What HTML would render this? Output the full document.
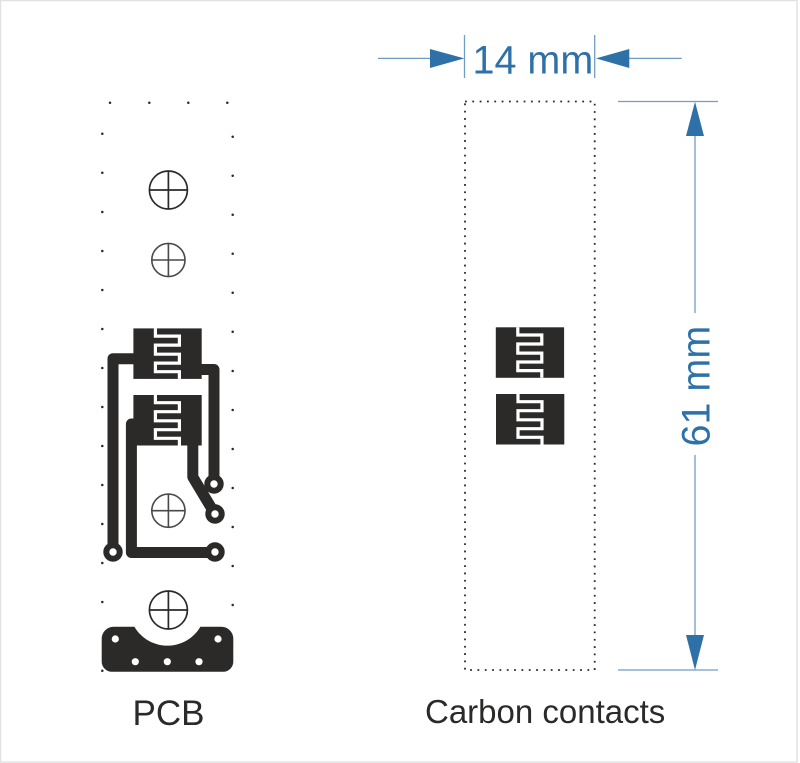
<!DOCTYPE html>
<html>
<head>
<meta charset="utf-8">
<style>
html,body{margin:0;padding:0;background:#fff;width:800px;height:763px;overflow:hidden}
svg{display:block}
text{font-family:"Liberation Sans",sans-serif}
</style>
</head>
<body>
<svg width="800" height="763" viewBox="0 0 800 763" xmlns="http://www.w3.org/2000/svg">
<defs>
  <g id="pad">
    <rect x="0" y="0" width="68.3" height="50.5" fill="#2b2a29"/>
    <path d="M22 0V7.7H46V16.7H22V25.8H46V34.7H22V43.3H46V50.5" fill="none" stroke="#fff" stroke-width="3.2"/>
  </g>
  <g id="via"><circle r="6.7" fill="#fff" stroke="#2b2a29" stroke-width="6"/></g>
  <circle id="d" r="1.25" fill="#2b2a29"/>
</defs>
<rect x="0.5" y="0.5" width="796.5" height="761.5" fill="#fff" stroke="#e2e2e2" stroke-width="1.5"/>

<!-- mounting dots -->
<g>
  <use href="#d" x="110" y="102.7"/><use href="#d" x="149.3" y="102.7"/><use href="#d" x="188.3" y="102.7"/><use href="#d" x="227.3" y="102.7"/>
  <use href="#d" x="102.3" y="133.7"/><use href="#d" x="102.3" y="172.7"/><use href="#d" x="102.3" y="212"/><use href="#d" x="102.3" y="251"/><use href="#d" x="102.3" y="290"/><use href="#d" x="102.3" y="329"/><use href="#d" x="102.3" y="368"/><use href="#d" x="102.3" y="407"/><use href="#d" x="102.3" y="446"/><use href="#d" x="102.3" y="485"/><use href="#d" x="102.3" y="524"/><use href="#d" x="102.3" y="563"/><use href="#d" x="102.3" y="602"/>
  <use href="#d" x="232.7" y="136.7"/><use href="#d" x="232.7" y="175.7"/><use href="#d" x="232.7" y="214.7"/><use href="#d" x="232.7" y="253.7"/><use href="#d" x="232.7" y="292.7"/><use href="#d" x="232.7" y="331.7"/><use href="#d" x="232.7" y="371"/><use href="#d" x="232.7" y="410"/><use href="#d" x="232.7" y="449"/><use href="#d" x="232.7" y="488"/><use href="#d" x="232.7" y="527"/><use href="#d" x="232.7" y="566"/><use href="#d" x="232.7" y="605"/>
</g>

<!-- crosshair holes -->
<g fill="none" stroke="#2b2a29" stroke-width="1.7">
  <circle cx="168.4" cy="190" r="19"/><path d="M149.4 190H187.4M168.4 171V209"/>
  <circle cx="168.4" cy="610" r="19"/><path d="M149.4 610H187.4M168.4 591V629"/>
</g>
<g fill="none" stroke="#4a4949" stroke-width="1.6">
  <circle cx="168.4" cy="260" r="16.6"/><path d="M151.8 260H185M168.4 243.4V276.6"/>
  <circle cx="168.4" cy="510.7" r="16.6"/><path d="M151.8 510.7H185M168.4 494.1V527.3"/>
</g>

<!-- traces -->
<g fill="none" stroke="#2b2a29" stroke-width="11" stroke-linejoin="round">
  <path d="M140 358.7H113V552"/>
  <path d="M195 369.5H214V484"/>
  <path d="M140 424H131.4V552.5H215"/>
  <path d="M192.8 440V477L215 514"/>
</g>
<use href="#pad" x="133.4" y="328.4"/>
<use href="#pad" x="133.4" y="395"/>
<use href="#via" x="113" y="552"/>
<use href="#via" x="214" y="484"/>
<use href="#via" x="215" y="514"/>
<use href="#via" x="215" y="552"/>

<!-- bottom part -->
<path d="M113.7 626.7H134.4A38.2 38.2 0 0 0 200.4 626.7H221.3A12 12 0 0 1 233.3 638.7V661.7A10 10 0 0 1 223.3 671.7H111.7A10 10 0 0 1 101.7 661.7V638.7A12 12 0 0 1 113.7 626.7Z" fill="#2b2a29"/>
<g fill="#fff">
  <circle cx="115.3" cy="639" r="3.6"/><circle cx="218" cy="639" r="3.6"/>
  <circle cx="135.3" cy="661.7" r="3.6"/><circle cx="167.3" cy="661.7" r="3.6"/><circle cx="199" cy="661.7" r="3.6"/>
</g>
<circle cx="102.3" cy="670.7" r="1.25" fill="#2b2a29"/>

<!-- carbon contacts -->
<rect x="465" y="101.5" width="129.7" height="568.5" fill="none" stroke="#2b2a29" stroke-width="1.8" stroke-dasharray="1.8 5.53"/>
<use href="#pad" x="495.8" y="327.3"/>
<use href="#pad" x="496" y="394"/>

<!-- dimensions -->
<g stroke="#6f9dc3" stroke-width="1.3" fill="none">
  <path d="M378 58.4H432M464.5 35V78M594.7 35V78M627 58.4H681.7"/>
  <path d="M618 101.5H718M618 670H718"/>
  <path d="M695 134V313M695 455V637"/>
</g>
<g fill="#2e70a8">
  <path d="M430 49V68L464.3 58.4Z"/>
  <path d="M629.3 49V68L596 58.4Z"/>
  <path d="M695 101.7L686 136H704Z"/>
  <path d="M695 670L686 635H704Z"/>
</g>
<text x="472.5" y="73.5" font-size="39.5" fill="#2e70a8">14 mm</text>
<text transform="translate(709.3 446.5) rotate(-90)" x="0" y="0" font-size="39.5" fill="#2e70a8">61 mm</text>
<text x="132.5" y="725" font-size="35" fill="#2b2a29">PCB</text>
<text x="425" y="723" font-size="33" fill="#2b2a29">Carbon contacts</text>
</svg>
</body>
</html>
